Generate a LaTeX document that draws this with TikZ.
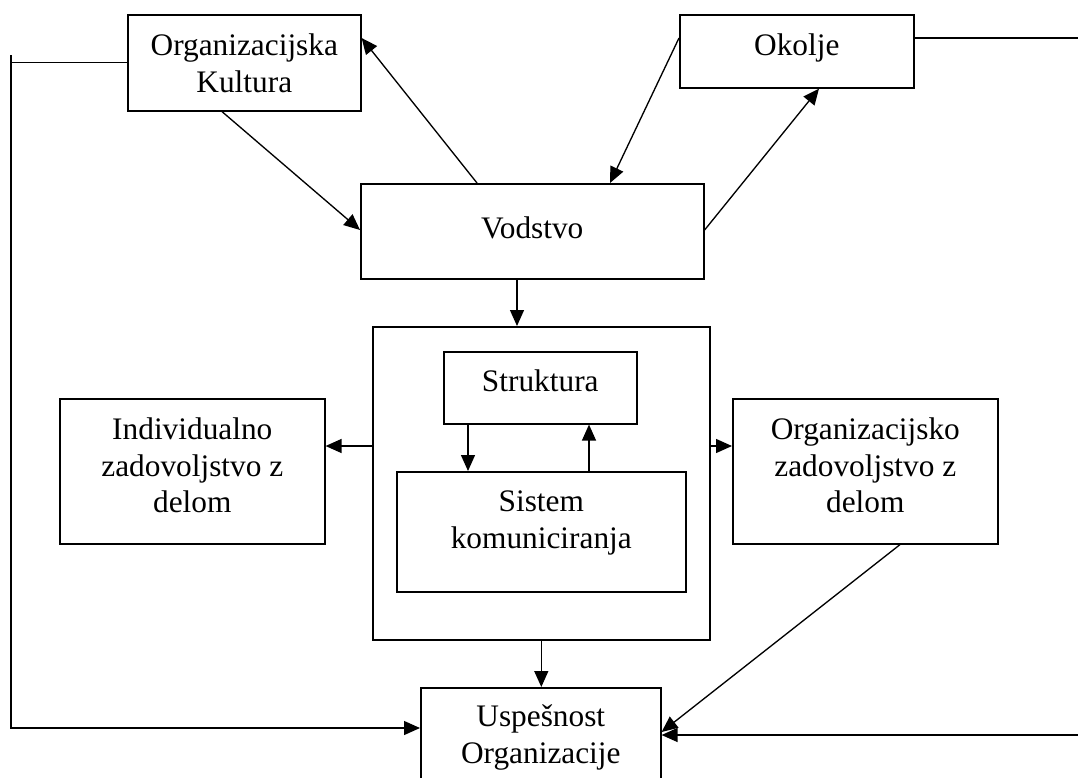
\documentclass[tikz,border=0pt]{standalone}
\usepackage{fontspec}
\setmainfont{Liberation Serif}
\usetikzlibrary{arrows.meta,calc}
\newlength\pxu
\setlength\pxu{0.75pt}
\newcommand{\bxtext}[4]{\parbox[c][#2\pxu][t]{#1\pxu}{\centering\rule{0pt}{#3\pxu}#4\par}}
\begin{document}
\begin{tikzpicture}[x=0.75pt,y=-0.75pt,
  box/.style={draw, line width=1.2pt, inner sep=0pt, anchor=north west,
    font=\fontsize{23.5pt}{27.4pt}\selectfont},
  arr/.style={-{Triangle[length=12pt,width=10.5pt]}, line width=1pt},
  ln/.style={line width=1pt}]
\useasboundingbox (0,0) rectangle (1078,778);
\clip (0,0) rectangle (1078,778);
\node[box] (ok) at (127,14) {\bxtext{233}{96}{41}{Organizacijska\\Kultura}};
\node[box] (okolje) at (679,14) {\bxtext{234}{73}{41}{Okolje}};
\node[box] (vod) at (360,183) {\bxtext{343}{95}{55}{Vodstvo}};
\node[box] (cont) at (372,326) {\bxtext{337}{313}{0}{}};
\node[box] (str) at (443,351) {\bxtext{193}{72}{40}{Struktura}};
\node[box] (sis) at (396,471) {\bxtext{289}{120}{40}{Sistem\\komuniciranja}};
\node[box] (ind) at (59,398) {\bxtext{265}{145}{41}{Individualno\\zadovoljstvo z\\delom}};
\node[box] (oz) at (732,398) {\bxtext{265}{145}{41}{Organizacijsko\\zadovoljstvo z\\delom}};
\node[box] (us) at (420,687) {\bxtext{240}{120}{39}{Uspešnost\\Organizacije}};
% feedback lines
\coordinate (lt) at (11,55);
\coordinate (lb) at (11,728);
\draw[ln] (ok.west) -- (ok.west -| lt);
\draw[arr] (lt) -- (lb) -- (us.west |- lb);
\coordinate (rt) at (1078,38);
\draw[ln] (rt) -- (rt -| okolje.east);
\coordinate (rb) at (1078,735);
\draw[arr] (rb) -- (rb -| us.east);
% top arrows
\draw[arr] ($(ok.south west)+(95,0)$) -- ($(vod.north west)+(0,47)$);
\draw[arr] ($(vod.north west)+(117,0)$) -- ($(ok.north east)+(0,24)$);
\draw[arr] ($(okolje.north west)+(0,24)$) -- ($(vod.north west)+(250,0)$);
\draw[arr] ($(vod.north east)+(0,47)$) -- ($(okolje.south west)+(140,0)$);
% middle
\draw[arr] ($(vod.south west)+(157,0)$) coordinate (v1) -- (v1 |- cont.north);
\draw[arr] ($(str.south west)+(25,0)$) coordinate (s1) -- (s1 |- sis.north);
\draw[arr] ($(sis.north west)+(193,0)$) coordinate (s2) -- (s2 |- str.south);
\draw[arr] ($(cont.north west)+(0,120)$) coordinate (c1) -- (c1 -| ind.east);
\draw[arr] ($(cont.north east)+(0,120)$) coordinate (c2) -- (c2 -| oz.west);
\draw[arr] (cont.south) -- (cont.south |- us.north);
\draw[arr] ($(oz.south west)+(168,0)$) -- ($(us.north east)+(0,45)$);
\end{tikzpicture}
\end{document}
